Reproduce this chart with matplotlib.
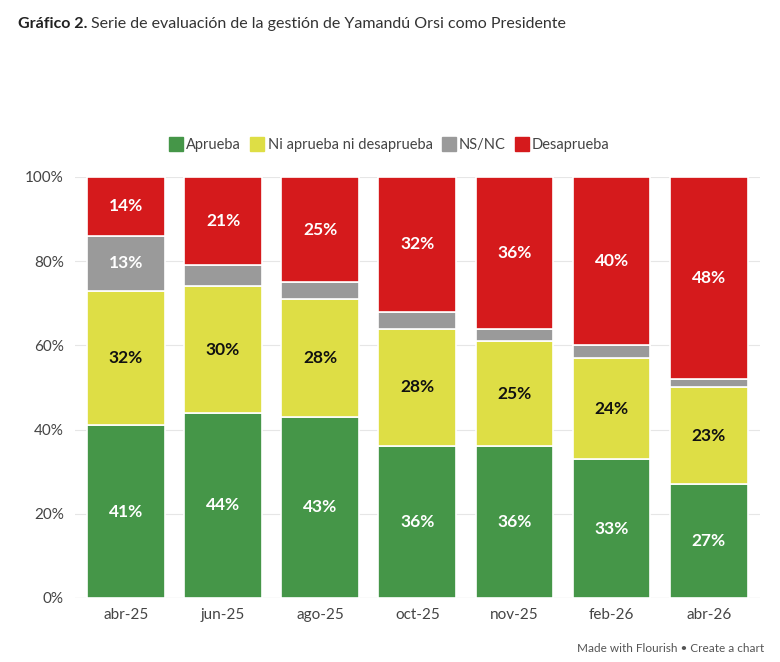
import matplotlib
matplotlib.use("Agg")
import matplotlib.pyplot as plt
from matplotlib.lines import Line2D
import numpy as np

periods = ["abr-25", "jun-25", "ago-25", "oct-25", "nov-25", "feb-26", "abr-26"]
aprueba = [41, 44, 43, 36, 36, 33, 27]
ni_ni = [32, 30, 28, 28, 25, 24, 23]
nsnc = [13, 5, 4, 4, 3, 3, 2]
desaprueba = [14, 21, 25, 32, 36, 40, 48]

series = [
    ("Aprueba", aprueba, "#459648", "white"),
    ("Ni aprueba ni desaprueba", ni_ni, "#dede45", "#111111"),
    ("NS/NC", nsnc, "#9a9a9a", "white"),
    ("Desaprueba", desaprueba, "#d51a1c", "white"),
]

plt.rcParams["font.family"] = ["Lato", "DejaVu Sans"]

fig = plt.figure(figsize=(7.8, 6.62), dpi=100)
ax = fig.add_axes([0.096, 0.0967, 0.878, 0.636])

x = np.arange(len(periods))
bottom = np.zeros(len(periods))
for name, vals, color, tcol in series:
    vals = np.array(vals, dtype=float)
    ax.bar(x, vals, 0.8, bottom=bottom, color=color, edgecolor="white",
           linewidth=1.2, zorder=2)
    for xi, b, v in zip(x, bottom, vals):
        if v >= 10:
            ax.text(xi, b + v / 2, f"{int(v)}%", ha="center", va="center",
                    color=tcol, fontsize=12.5, fontweight="bold", zorder=3)
    bottom += vals

ax.set_xlim(-0.525, len(periods) - 0.475)
ax.set_ylim(0, 100)
ax.set_yticks([0, 20, 40, 60, 80, 100])
ax.set_yticklabels([f"{t}%" for t in [0, 20, 40, 60, 80, 100]])
ax.set_xticks(x)
ax.set_xticklabels(periods)
ax.tick_params(axis="both", length=0, labelsize=11, colors="#444444")
ax.tick_params(axis="x", pad=7)
ax.tick_params(axis="y", pad=8)
ax.grid(axis="y", color="#e6e6e6", linewidth=0.8, zorder=0)
for s in ax.spines.values():
    s.set_visible(False)
ax.axhline(0, color="#cccccc", linewidth=0.8, zorder=1)

handles = [Line2D([0], [0], marker="s", linestyle="none", markersize=10,
                  markerfacecolor=c, markeredgecolor=c) for _, _, c, _ in series]
fig.legend(handles, [s[0] for s in series], loc="center", ncol=4,
           bbox_to_anchor=(0.5, 0.781), frameon=False, fontsize=10.5,
           handlelength=0.8, handletextpad=0.3, columnspacing=0.7,
           labelcolor="#444444")

t1 = fig.text(0.023, 0.963, "Gráfico 2.", fontsize=11.5, fontweight="bold",
              color="#222222", va="center")
fig.canvas.draw()
bb = t1.get_window_extent()
x2 = bb.x1 / fig.bbox.width + 0.005
fig.text(x2, 0.963, "Serie de evaluación de la gestión de Yamandú Orsi como Presidente",
         fontsize=11.5, color="#333333", va="center")

fig.text(0.98, 0.021, "Made with Flourish \u2022 Create a chart", ha="right",
         va="center", fontsize=8.5, color="#555555")

fig.savefig("out.png", dpi=100, facecolor="white")
